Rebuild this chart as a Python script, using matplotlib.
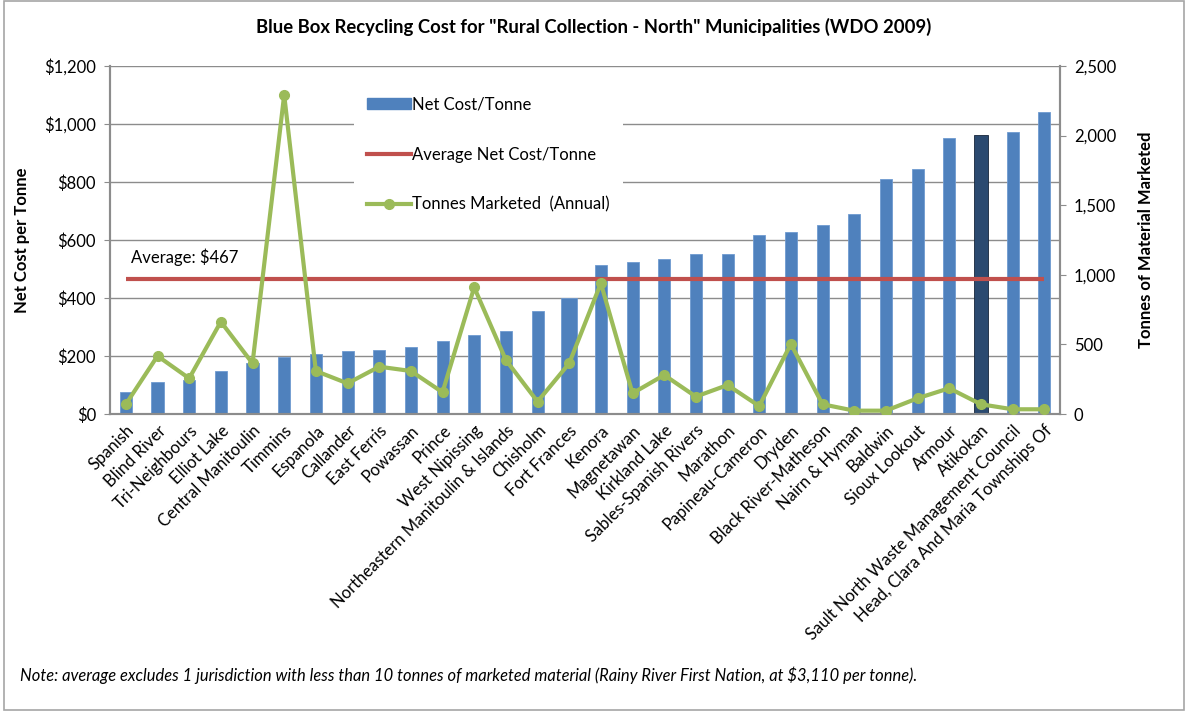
import numpy as np
import matplotlib
matplotlib.use("Agg")
import matplotlib.pyplot as plt
from matplotlib.ticker import FuncFormatter, MultipleLocator
from matplotlib.patches import Rectangle, Patch
from matplotlib.lines import Line2D

plt.rcParams['font.family'] = ['Lato', 'DejaVu Sans']

# === datos ===
municipios = ["Spanish", "Blind River", "Tri-Neighbours", "Elliot Lake", "Central Manitoulin",
              "Timmins", "Espanola", "Callander", "East Ferris", "Powassan", "Prince",
              "West Nipissing", "Northeastern Manitoulin & Islands", "Chisholm", "Fort Frances",
              "Kenora", "Magnetawan", "Kirkland Lake", "Sables-Spanish Rivers", "Marathon",
              "Papineau-Cameron", "Dryden", "Black River-Matheson", "Nairn & Hyman", "Baldwin",
              "Sioux Lookout", "Armour", "Atikokan", "Sault North Waste Management Council",
              "Head, Clara And Maria Townships Of"]
coste_tonelada = [76, 110, 117, 148, 176, 197, 207, 217, 221, 231, 251, 272, 286, 355, 400,
                  513, 523, 533, 553, 553, 617, 626, 651, 690, 810, 845, 952, 961, 972, 1041]
toneladas = [70, 417, 256, 663, 364, 2292, 309, 220, 340, 309, 156, 910, 388, 89, 364,
             939, 149, 280, 125, 208, 57, 503, 70, 24, 24, 113, 185, 70, 34, 34]
media = 467
resaltado = "Atikokan"

azul, rojo, verde = "#4F81BD", "#C0504D", "#9BBB59"
fs = 12

fig = plt.figure(figsize=(11.88, 7.11), dpi=100)
ax = fig.add_axes([0.0926, 0.4177, 0.7997, 0.4895])
ax2 = ax.twinx()

x = np.arange(len(municipios))
anchos = [0.38] * len(municipios)
anchos[municipios.index("Fort Frances")] = 0.52
anchos[municipios.index(resaltado)] = 0.45
colores = [azul] * len(municipios)
colores[municipios.index(resaltado)] = "#2B4A70"
bordes = ["#6F9AD0"] * len(municipios)
bordes[municipios.index(resaltado)] = "#17263A"

ax.bar(x, coste_tonelada, width=anchos, color=colores, edgecolor=bordes, linewidth=0.6, zorder=2)
ax.plot(x, [media] * len(x), color=rojo, lw=3, zorder=3, solid_capstyle='butt')
ax.text(0.15, 540, "Average: $467", fontsize=fs, va='center', ha='left', zorder=4)

ax2.plot(x, toneladas, color=verde, lw=3, marker='o', markersize=7, zorder=5)

# === ejes ===
ax.set_xlim(-0.5, len(x) - 0.5)
ax.set_ylim(0, 1200)
ax2.set_ylim(0, 2500)
ax.yaxis.set_major_locator(MultipleLocator(200))
ax2.yaxis.set_major_locator(MultipleLocator(500))
ax.yaxis.set_major_formatter(FuncFormatter(lambda v, p: "${:,.0f}".format(v)))
ax2.yaxis.set_major_formatter(FuncFormatter(lambda v, p: "{:,.0f}".format(v)))
ax.grid(axis='y', color="#8C8C8C", lw=1, zorder=0)
ax.set_axisbelow(True)

ax.set_xticks(x)
ax.set_xticklabels(municipios, rotation=45, ha='right', rotation_mode='anchor', fontsize=fs)
ax.tick_params(axis='x', length=0, pad=6)
ax.tick_params(axis='y', labelsize=fs, length=4, color="#8C8C8C", pad=6)
ax2.tick_params(axis='y', labelsize=fs, length=4, color="#8C8C8C", pad=6)

for a in (ax, ax2):
    for lado in a.spines.values():
        lado.set_color("#8C8C8C")
        lado.set_linewidth(1.5)
    a.spines['top'].set_visible(False)

ax.set_ylabel("Net Cost per Tonne", fontsize=fs, fontweight='bold', labelpad=10)
ax2.set_ylabel("Tonnes of Material Marketed", fontsize=fs, fontweight='bold', labelpad=16)

# === leyenda ===
handles = [Patch(color=azul),
           Line2D([], [], color=rojo, lw=3),
           Line2D([], [], color=verde, lw=3, marker='o', markersize=7)]
etiquetas = ["Net Cost/Tonne", "Average Net Cost/Tonne", "Tonnes Marketed  (Annual)"]
leg = ax2.legend(handles, etiquetas, loc='upper left', bbox_to_anchor=(0.248, 0.975),
                 fontsize=fs, frameon=True, fancybox=False, labelspacing=2.05,
                 handlelength=2.6, handletextpad=0.1, borderpad=0.8)
leg.get_frame().set_facecolor('white')
leg.get_frame().set_edgecolor('none')
leg.get_frame().set_alpha(1)

fig.text(0.5, 0.962, 'Blue Box Recycling Cost for "Rural Collection - North" Municipalities (WDO 2009)',
         ha='center', va='center', fontsize=13.3, fontweight='bold')
fig.text(0.017, 0.0506, "Note: average excludes 1 jurisdiction with less than 10 tonnes of marketed "
         "material (Rainy River First Nation, at $3,110 per tonne).",
         ha='left', va='center', fontsize=11.9, style='italic')

fig.patches.append(Rectangle((0.003, 0.002), 0.994, 0.996, transform=fig.transFigure,
                             fill=False, edgecolor="#A6A6A6", lw=1.2))

fig.savefig("out.png", dpi=100)
